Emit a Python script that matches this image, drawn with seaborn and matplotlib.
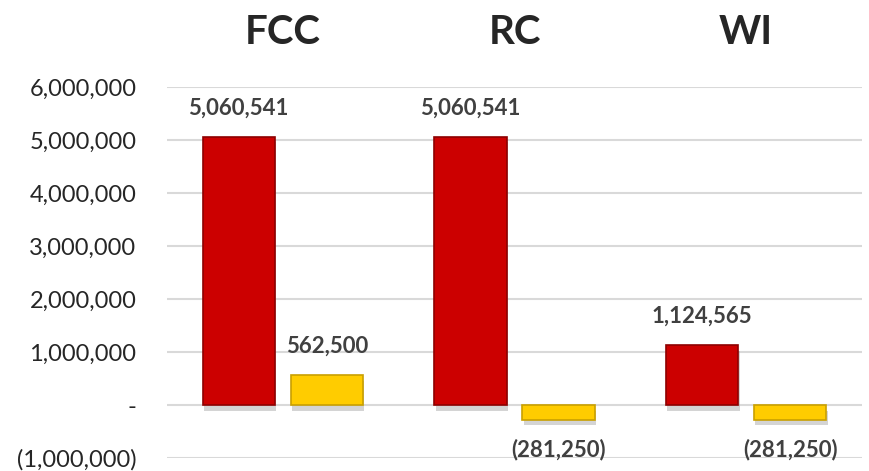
import pandas as pd
import numpy as np
import matplotlib.pyplot as plt
import matplotlib.ticker as tkr
import matplotlib.patheffects as pe
import seaborn as sns

sns.set_style('white')
plt.rcParams['font.family'] = ['Lato', 'DejaVu Sans']

# dados
grupos = ['FCC', 'RC', 'WI']
serie_a = [5060541, 5060541, 1124565]
serie_b = [562500, -281250, -281250]

df = pd.DataFrame({
    'grupo': grupos * 2,
    'serie': ['a'] * 3 + ['b'] * 3,
    'valor': serie_a + serie_b,
})

fig = plt.figure(figsize=(8.69, 4.71), dpi=100)
ax = fig.add_axes([0.192, 0.0276, 0.8, 0.7874])

sns.barplot(data=df, x='grupo', y='valor', hue='serie', palette=['#CC0000', '#FFCC00'],
            saturation=1, width=0.76, gap=0.18, legend=False, ax=ax, zorder=3)

edges = {'a': '#8E0000', 'b': '#C9A000'}
for cont, s in zip(ax.containers, ['a', 'b']):
    for bar in cont:
        bar.set_edgecolor(edges[s])
        bar.set_linewidth(1.2)
        bar.set_path_effects([pe.SimplePatchShadow(offset=(1, -4), shadow_rgbFace='#AAAAAA', alpha=0.5),
                              pe.Normal()])
        v = bar.get_height()
        txt = '{:,.0f}'.format(v) if v >= 0 else '({:,.0f})'.format(-v)
        ax.annotate(txt, (bar.get_x() + bar.get_width() / 2, v),
                    xytext=(0, 21 if v >= 0 else -21), textcoords='offset points',
                    ha='center', va='center', fontsize=16, fontweight='bold', color='#404040', zorder=5)


def fmt(x, pos):
    if abs(x) < 1:
        return '-'
    if x < 0:
        return '({:,.0f})'.format(-x)
    return '{:,.0f}'.format(x)


ax.set_ylim(-1000000, 6000000)
ax.yaxis.set_major_locator(tkr.MultipleLocator(1000000))
ax.yaxis.set_major_formatter(tkr.FuncFormatter(fmt))
ax.grid(axis='y', color='#D9D9D9', linewidth=1.5, zorder=0)
ax.set_axisbelow(True)
ax.tick_params(axis='y', length=0, pad=22, labelsize=17)

ax.xaxis.tick_top()
ax.tick_params(axis='x', length=0, pad=26, labelsize=29)
for t in ax.get_xticklabels():
    t.set_fontweight('bold')

ax.set_xlabel('')
ax.set_ylabel('')
sns.despine(ax=ax, left=True, bottom=True, top=True, right=True)

plt.savefig('out.png', dpi=100)
